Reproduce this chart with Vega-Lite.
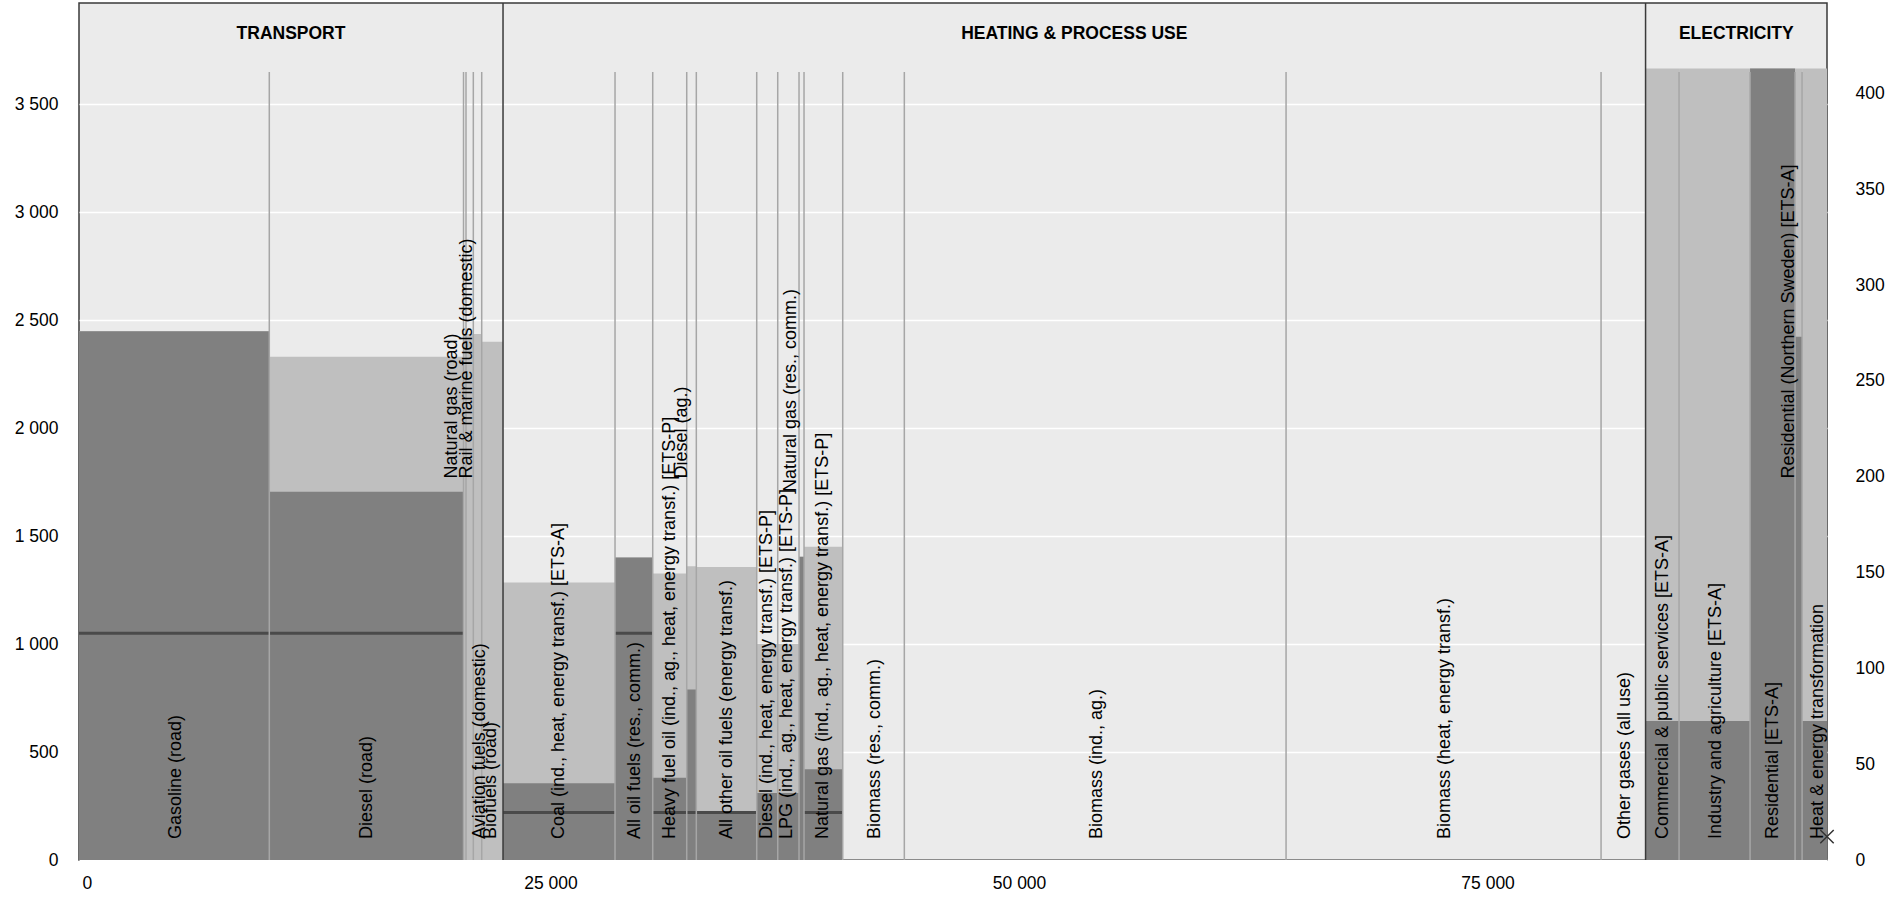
{
  "$schema": "https://vega.github.io/schema/vega-lite/v6.json",
  "width": 1748,
  "height": 857,
  "autosize": {"type": "none"},
  "padding": {"left": 79, "top": 3, "right": 76, "bottom": 37},
  "background": "#ffffff",
  "config": {
    "font": "Liberation Sans, Arial, sans-serif",
    "view": {"fill": "#ebebeb", "stroke": "#3a3a3a", "strokeWidth": 1.5},
    "axis": {"labelFont": "Liberation Sans, Arial, sans-serif", "labelFontSize": 17.5, "labelColor": "#000000", "ticks": false, "domain": false, "title": null},
    "text": {"font": "Liberation Sans, Arial, sans-serif"}
  },
  "datasets": {
    "cats": [
      {"cat": "Gasoline  (road)", "sc": "left", "x0": 0, "x1": 10154, "dark": 2448, "total": 2448, "line": 1050, "tier": "low", "lx": 5176},
      {"cat": "Diesel (road)", "sc": "left", "x0": 10154, "x1": 20517, "dark": 1705, "total": 2330, "line": 1050, "tier": "low", "lx": 15368},
      {"cat": "Natural gas (road)", "sc": "left", "x0": 20517, "x1": 20650, "dark": 0, "total": 2435, "tier": "high", "lx": 19877},
      {"cat": "Rail & marine fuels (domestic)", "sc": "left", "x0": 20650, "x1": 21040, "dark": 0, "total": 2435, "tier": "high", "lx": 20677},
      {"cat": "Aviation fuels (domestic)", "sc": "left", "x0": 21040, "x1": 21488, "dark": 0, "total": 2435, "tier": "low", "lx": 21397},
      {"cat": "Biofuels (road)", "sc": "left", "x0": 21488, "x1": 22625, "dark": 0, "total": 2400, "tier": "low", "lx": 21984},
      {"cat": "Coal (ind., heat, energy transf.) [ETS-A]", "sc": "left", "x0": 22625, "x1": 28601, "dark": 355, "total": 1285, "line": 220, "tier": "low", "lx": 25586},
      {"cat": "All oil fuels (res., comm.)", "sc": "left", "x0": 28601, "x1": 30613, "dark": 1401, "total": 1401, "line": 1050, "tier": "low", "lx": 29641},
      {"cat": "Heavy fuel oil (ind., ag., heat, energy transf.) [ETS-P]", "sc": "left", "x0": 30613, "x1": 32427, "dark": 381, "total": 1327, "line": 220, "tier": "low", "lx": 31536},
      {"cat": "Diesel (ag.)", "sc": "left", "x0": 32427, "x1": 32939, "dark": 790, "total": 1360, "line": 220, "tier": "high", "lx": 32176},
      {"cat": "All other oil fuels (energy transf.)", "sc": "left", "x0": 32939, "x1": 36162, "dark": 222, "total": 1357, "line": 220, "tier": "low", "lx": 34577},
      {"cat": "Diesel (ind., heat, energy transf.) [ETS-P]", "sc": "left", "x0": 36162, "x1": 37283, "dark": 310, "total": 1000, "tier": "low", "lx": 36712},
      {"cat": "LPG (ind., ag., heat, energy transf.) [ETS-P]", "sc": "left", "x0": 37283, "x1": 38419, "dark": 310, "total": 1000, "tier": "low", "lx": 37752},
      {"cat": "Natural gas (res., comm.)", "sc": "left", "x0": 38419, "x1": 38686, "dark": 1404, "total": 1404, "tier": "mid", "lx": 37992},
      {"cat": "Natural gas (ind., ag., heat, energy transf.) [ETS-P]", "sc": "left", "x0": 38686, "x1": 40751, "dark": 420, "total": 1450, "line": 220, "tier": "low", "lx": 39700},
      {"cat": "Biomass (res., comm.)", "sc": "left", "x0": 40751, "x1": 44038, "dark": 0, "total": 0, "tier": "low", "lx": 42475},
      {"cat": "Biomass (ind., ag.)", "sc": "left", "x0": 44038, "x1": 64406, "dark": 0, "total": 0, "tier": "low", "lx": 54320},
      {"cat": "Biomass  (heat, energy transf.)", "sc": "left", "x0": 64406, "x1": 81214, "dark": 0, "total": 0, "tier": "low", "lx": 72890},
      {"cat": "Other gases  (all use)", "sc": "left", "x0": 81214, "x1": 83589, "dark": 0, "total": 0, "tier": "low", "lx": 82494},
      {"cat": "Commercial & public services  [ETS-A]", "sc": "right", "x0": 83589, "x1": 85376, "dark": 72.5, "total": 413, "tier": "low", "lx": 84502},
      {"cat": "Industry and agriculture [ETS-A]", "sc": "right", "x0": 85376, "x1": 89165, "dark": 72.5, "total": 413, "tier": "low", "lx": 87352},
      {"cat": "Residential [ETS-A]", "sc": "right", "x0": 89165, "x1": 91566, "dark": 413, "total": 413, "tier": "low", "lx": 90394},
      {"cat": "Residential (Northern Sweden) [ETS-A]", "sc": "right", "x0": 91566, "x1": 91940, "dark": 273, "total": 413, "tier": "high", "lx": 91251},
      {"cat": "Heat & energy transformation", "sc": "right", "x0": 91940, "x1": 93270, "dark": 72.5, "total": 413, "tier": "low", "lx": 92778}
    ],
    "sections": [
      {"section": "TRANSPORT", "x0": 0, "x1": 22625, "mid": 11312},
      {"section": "HEATING & PROCESS USE", "x0": 22625, "x1": 83589, "mid": 53107},
      {"section": "ELECTRICITY", "x0": 83589, "x1": 93270, "mid": 88430}
    ],
    "points": [
      {"x": 93270, "v": 12.2}
    ]
  },
  "layer": [
    {
      "data": {"name": "cats"},
      "transform": [{"filter": "datum.sc == 'left'"}],
      "layer": [
        {
          "mark": {"type": "rect", "color": "#bfbfbf"},
          "encoding": {
            "x": {"field": "x0", "type": "quantitative", "scale": {"domain": [0, 93270], "nice": false, "zero": false},
              "axis": {"orient": "bottom", "values": [0, 25000, 50000, 75000], "labelExpr": "replace(format(datum.value, ',d'), ',', ' ')", "labelPadding": 14, "labelOffset": 3, "grid": false}},
            "x2": {"field": "x1"},
            "y": {"field": "total", "type": "quantitative", "scale": {"domain": [0, 3968], "nice": false, "zero": true},
              "axis": {"orient": "left", "values": [0, 500, 1000, 1500, 2000, 2500, 3000, 3500], "labelExpr": "replace(format(datum.value, ',d'), ',', ' ')", "grid": true, "gridColor": "#ffffff", "gridWidth": 1.5, "labelPadding": 21}},
            "y2": {"datum": 0}
          }
        },
        {
          "mark": {"type": "rect", "color": "#808080"},
          "encoding": {
            "x": {"field": "x0", "type": "quantitative", "scale": {"domain": [0, 93270], "nice": false, "zero": false}},
            "x2": {"field": "x1"},
            "y": {"field": "dark", "type": "quantitative"},
            "y2": {"datum": 0}
          }
        }
      ]
    },
    {
      "layer": [
        {
          "data": {"name": "cats"},
          "transform": [{"filter": "datum.sc == 'right'"}],
          "mark": {"type": "rect", "color": "#bfbfbf"},
          "encoding": {
            "x": {"field": "x0", "type": "quantitative", "scale": {"domain": [0, 93270], "nice": false, "zero": false}},
            "x2": {"field": "x1"},
            "y": {"field": "total", "type": "quantitative", "scale": {"domain": [0, 447.2], "nice": false, "zero": true},
              "axis": {"orient": "right", "values": [0, 50, 100, 150, 200, 250, 300, 350, 400], "grid": false, "labelPadding": 28}},
            "y2": {"datum": 0}
          }
        },
        {
          "data": {"name": "cats"},
          "transform": [{"filter": "datum.sc == 'right'"}],
          "mark": {"type": "rect", "color": "#808080"},
          "encoding": {
            "x": {"field": "x0", "type": "quantitative", "scale": {"domain": [0, 93270], "nice": false, "zero": false}},
            "x2": {"field": "x1"},
            "y": {"field": "dark", "type": "quantitative"},
            "y2": {"datum": 0}
          }
        },
        {
          "data": {"name": "points"},
          "mark": {"type": "point", "shape": "M-1,-1L1,1M1,-1L-1,1", "size": 180, "filled": false, "stroke": "#333333", "strokeWidth": 1.5, "opacity": 1},
          "encoding": {
            "x": {"field": "x", "type": "quantitative", "scale": {"domain": [0, 93270], "nice": false, "zero": false}},
            "y": {"field": "v", "type": "quantitative"}
          }
        }
      ]
    },
    {
      "layer": [
        {
          "data": {"name": "cats"},
          "transform": [{"filter": "isValid(datum.line)"}],
          "mark": {"type": "rule", "color": "#4a4a4a", "strokeWidth": 3},
          "encoding": {
            "x": {"field": "x0", "type": "quantitative", "scale": {"domain": [0, 93270], "nice": false, "zero": false}},
            "x2": {"field": "x1"},
            "y": {"field": "line", "type": "quantitative", "scale": {"domain": [0, 3968], "nice": false, "zero": true}, "axis": null}
          }
        },
        {
          "data": {"name": "cats"},
          "transform": [{"filter": "datum.x1 != 22625 && datum.x1 != 83589 && datum.x1 < 93000"}],
          "mark": {"type": "rule", "color": "#a6a6a6", "strokeWidth": 1.5},
          "encoding": {
            "x": {"field": "x1", "type": "quantitative", "scale": {"domain": [0, 93270], "nice": false, "zero": false}},
            "y": {"datum": 0, "type": "quantitative"},
            "y2": {"datum": 3648}
          }
        },
        {
          "data": {"name": "sections"},
          "transform": [{"filter": "datum.x1 < 93000"}],
          "mark": {"type": "rule", "color": "#3a3a3a", "strokeWidth": 1.5},
          "encoding": {
            "x": {"field": "x1", "type": "quantitative", "scale": {"domain": [0, 93270], "nice": false, "zero": false}},
            "y": {"datum": 0, "type": "quantitative"},
            "y2": {"datum": 3968}
          }
        },
        {
          "data": {"name": "sections"},
          "mark": {"type": "text", "fontWeight": "bold", "fontSize": 17.5, "color": "#000000", "align": "center", "baseline": "middle"},
          "encoding": {
            "x": {"field": "mid", "type": "quantitative", "scale": {"domain": [0, 93270], "nice": false, "zero": false}},
            "y": {"datum": 3824, "type": "quantitative"},
            "text": {"field": "section"}
          }
        },
        {
          "data": {"name": "cats"},
          "transform": [{"filter": "datum.tier == 'low'"}],
          "mark": {"type": "text", "angle": 270, "align": "left", "baseline": "middle", "fontSize": 18, "color": "#000000"},
          "encoding": {
            "x": {"field": "lx", "type": "quantitative", "scale": {"domain": [0, 93270], "nice": false, "zero": false}},
            "y": {"datum": 97, "type": "quantitative"},
            "text": {"field": "cat"}
          }
        },
        {
          "data": {"name": "cats"},
          "transform": [{"filter": "datum.tier == 'high'"}],
          "mark": {"type": "text", "angle": 270, "align": "left", "baseline": "middle", "fontSize": 18, "color": "#000000"},
          "encoding": {
            "x": {"field": "lx", "type": "quantitative", "scale": {"domain": [0, 93270], "nice": false, "zero": false}},
            "y": {"datum": 1766, "type": "quantitative"},
            "text": {"field": "cat"}
          }
        },
        {
          "data": {"name": "cats"},
          "transform": [{"filter": "datum.tier == 'mid'"}],
          "mark": {"type": "text", "angle": 270, "align": "left", "baseline": "middle", "fontSize": 18, "color": "#000000"},
          "encoding": {
            "x": {"field": "lx", "type": "quantitative", "scale": {"domain": [0, 93270], "nice": false, "zero": false}},
            "y": {"datum": 1704, "type": "quantitative"},
            "text": {"field": "cat"}
          }
        }
      ]
    }
  ],
  "resolve": {"scale": {"y": "independent"}, "axis": {"y": "independent"}}
}
